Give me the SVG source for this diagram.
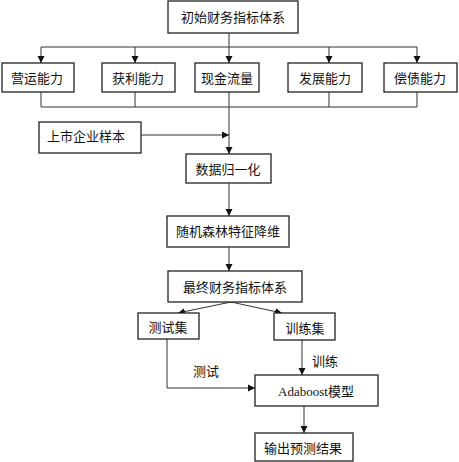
<svg xmlns="http://www.w3.org/2000/svg" width="459" height="462" viewBox="0 0 459 462">
<defs>
<marker id="ah" markerWidth="8" markerHeight="8" refX="7" refY="4" orient="auto" markerUnits="userSpaceOnUse">
<path d="M0,0.5 L7,4 L0,7.5 Z" fill="#111"/>
</marker>
</defs>
<style>
.box{fill:#fff;stroke:#222;stroke-width:1.3}
.t{font-family:"Liberation Serif","Noto Sans CJK SC",serif;font-size:13px;fill:#111;text-anchor:middle;dominant-baseline:central}
.c{fill:none;stroke:#333;stroke-width:1}
.a{fill:none;stroke:#333;stroke-width:1;marker-end:url(#ah)}
</style>
<rect width="459" height="462" fill="#fff"/>
<g id="connectors">
<path class="c" d="M229,33 V47 M41,47 H417"/>
<path class="a" d="M41,47 V63"/>
<path class="a" d="M135,47 V63"/>
<path class="a" d="M229,47 V63"/>
<path class="a" d="M329,47 V63"/>
<path class="a" d="M417,47 V63"/>
<path class="c" d="M41,92 V107 H417 M135,92 V107 M329,92 V107 M417,92 V107"/>
<path class="a" d="M229,92 V154"/>
<path class="a" d="M141,135 H229"/>
<path class="a" d="M229,183 V216"/>
<path class="a" d="M229,247 V271"/>
<path class="a" d="M231,302 L178,313"/>
<path class="a" d="M231,302 L282,313"/>
<path class="a" d="M167,339 V388 H255"/>
<path class="a" d="M302,340 V375"/>
<path class="a" d="M304,406 V433"/>
</g>
<g id="n1"><rect class="box" x="168" y="1" width="130" height="32"/><text class="t" x="233" y="17">初始财务指标体系</text></g>
<g id="n2"><rect class="box" x="2" y="63" width="72" height="29"/><text class="t" x="37" y="78">营运能力</text></g>
<g id="n3"><rect class="box" x="102" y="63" width="73" height="29"/><text class="t" x="138" y="78">获利能力</text></g>
<g id="n4"><rect class="box" x="195" y="63" width="64" height="29"/><text class="t" x="227" y="78">现金流量</text></g>
<g id="n5"><rect class="box" x="288" y="63" width="74" height="29"/><text class="t" x="325" y="78">发展能力</text></g>
<g id="n6"><rect class="box" x="384" y="63" width="73" height="29"/><text class="t" x="420" y="78">偿债能力</text></g>
<g id="n7"><rect class="box" x="39" y="122" width="102" height="31"/><text class="t" x="86" y="136">上市企业样本</text></g>
<g id="n8"><rect class="box" x="186" y="154" width="85" height="29"/><text class="t" x="228" y="169">数据归一化</text></g>
<g id="n9"><rect class="box" x="167" y="216" width="122" height="31"/><text class="t" x="228" y="231">随机森林特征降维</text></g>
<g id="n10"><rect class="box" x="168" y="271" width="134" height="31"/><text class="t" x="235" y="287">最终财务指标体系</text></g>
<g id="n11"><rect class="box" x="138" y="313" width="61" height="26"/><text class="t" x="168" y="327">测试集</text></g>
<g id="n12"><rect class="box" x="274" y="313" width="61" height="27"/><text class="t" x="305" y="328">训练集</text></g>
<g id="n13"><rect class="box" x="255" y="375" width="123" height="31"/><text class="t" x="316" y="391">Adaboost模型</text></g>
<g id="n14"><rect class="box" x="255" y="433" width="98" height="28"/><text class="t" x="303" y="448">输出预测结果</text></g>
<g id="labels">
<text class="t" x="206" y="371">测试</text>
<text class="t" x="325" y="361">训练</text>
</g>
</svg>
